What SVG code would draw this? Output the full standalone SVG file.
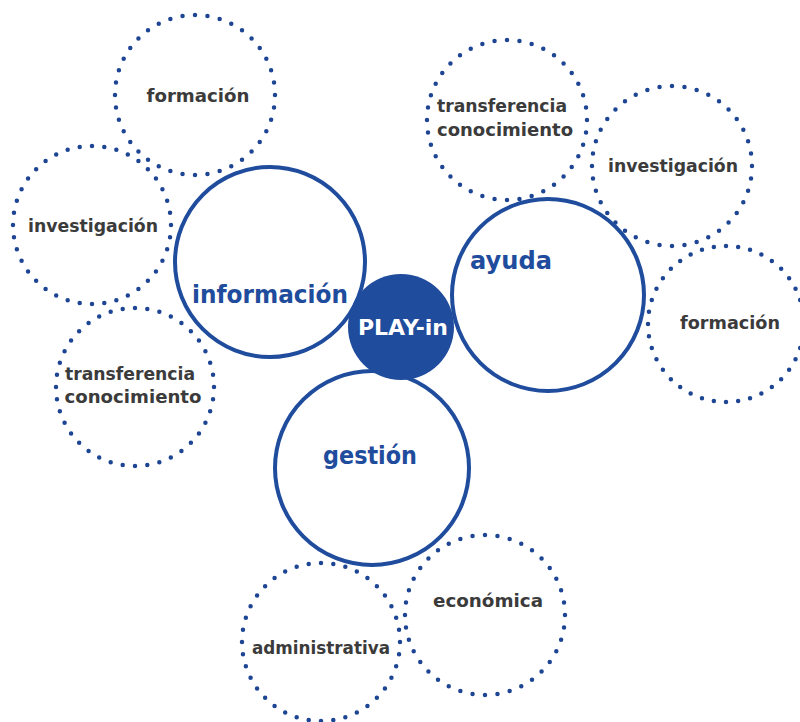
<svg xmlns="http://www.w3.org/2000/svg" width="800" height="722" viewBox="0 0 800 722">
<style>
.dot{fill:none;stroke:#1d4594;stroke-width:4.5;stroke-linecap:round;stroke-dasharray:0 1}
.ring{fill:#fff;stroke:#1f4c9c;stroke-width:4}
.core{fill:#1f4c9c;stroke:none}
.sub{font-family:"DejaVu Sans","Liberation Sans",sans-serif;font-weight:bold;font-size:17px;fill:#3b3b3b;text-anchor:middle}
.main{font-family:"DejaVu Sans","Liberation Sans",sans-serif;font-weight:bold;font-size:25px;fill:#1f4c9c;text-anchor:middle}
.play{font-family:"DejaVu Sans","Liberation Sans",sans-serif;font-weight:bold;font-size:21px;fill:#fff;text-anchor:middle}
</style>
<rect width="800" height="722" fill="#fff"/>
<g id="formacion-info">
<circle class="dot" cx="195" cy="95" r="80" pathLength="40"/>
<text class="sub" x="198" y="102" textLength="103" lengthAdjust="spacingAndGlyphs">formación</text>
</g>
<g id="investigacion-info">
<circle class="dot" cx="92" cy="225" r="79" pathLength="40"/>
<text class="sub" x="93" y="232" textLength="130" lengthAdjust="spacingAndGlyphs">investigación</text>
</g>
<g id="transferencia-info">
<circle class="dot" cx="135" cy="387" r="79" pathLength="40"/>
<text class="sub" x="130" y="380" textLength="130" lengthAdjust="spacingAndGlyphs">transferencia</text>
<text class="sub" x="133" y="403" textLength="137" lengthAdjust="spacingAndGlyphs">conocimiento</text>
</g>
<g id="transferencia-ayuda">
<circle class="dot" cx="507" cy="120" r="80" pathLength="40"/>
<text class="sub" x="502" y="112" textLength="130" lengthAdjust="spacingAndGlyphs">transferencia</text>
<text class="sub" x="505" y="136" textLength="136" lengthAdjust="spacingAndGlyphs">conocimiento</text>
</g>
<g id="investigacion-ayuda">
<circle class="dot" cx="672" cy="166" r="80" pathLength="40"/>
<text class="sub" x="673" y="172" textLength="130" lengthAdjust="spacingAndGlyphs">investigación</text>
</g>
<g id="formacion-ayuda">
<circle class="dot" cx="726" cy="324" r="78" pathLength="40"/>
<text class="sub" x="730" y="329" textLength="100" lengthAdjust="spacingAndGlyphs">formación</text>
</g>
<g id="administrativa">
<circle class="dot" cx="321" cy="642" r="79" pathLength="40"/>
<text class="sub" x="321" y="654" textLength="138" lengthAdjust="spacingAndGlyphs">administrativa</text>
</g>
<g id="economica">
<circle class="dot" cx="485" cy="615" r="80" pathLength="40"/>
<text class="sub" x="488" y="607" textLength="110" lengthAdjust="spacingAndGlyphs">económica</text>
</g>
<g id="informacion">
<circle class="ring" cx="270" cy="262" r="95"/>
<text class="main" x="270" y="303" textLength="156" lengthAdjust="spacingAndGlyphs">información</text>
</g>
<g id="ayuda">
<circle class="ring" cx="548" cy="295" r="96"/>
<text class="main" x="511" y="269" textLength="82" lengthAdjust="spacingAndGlyphs">ayuda</text>
</g>
<g id="gestion">
<circle class="ring" cx="372" cy="468" r="97"/>
<text class="main" x="370" y="464" textLength="94" lengthAdjust="spacingAndGlyphs">gestión</text>
</g>
<g id="play-in">
<circle class="core" cx="401" cy="327" r="53"/>
<text class="play" x="403" y="335" textLength="90" lengthAdjust="spacingAndGlyphs">PLAY-in</text>
</g>
<g id="connectors"></g>
</svg>
